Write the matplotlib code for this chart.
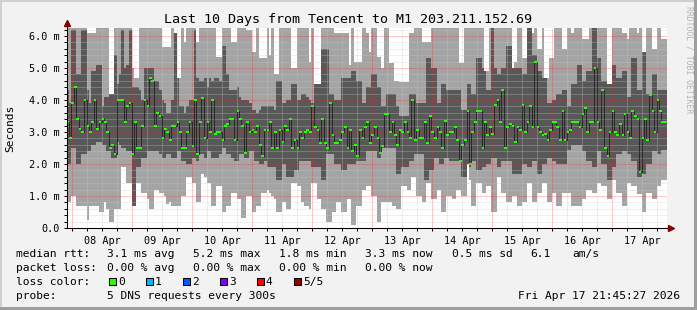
import numpy as np
import matplotlib

matplotlib.use("Agg")
from matplotlib import pyplot as plt
from matplotlib.patches import Rectangle
from matplotlib.ticker import FixedLocator, FuncFormatter, NullFormatter

# hourly bins, last 10 days up to Fri Apr 17 21:45, values in ms
median_rtt = [
    3.3, 2.8, 3.9, 4.4, 3.4, 3.1, 3.0, 4.0, 3.2, 3.0, 3.3, 4.0, 3.1, 3.3, 3.4, 3.3, 3.0, 2.5, 2.6, 2.3,
    4.0, 4.0, 4.0, 3.3, 3.8, 3.9, 2.3, 3.3, 2.5, 2.5, 3.2, 4.0, 3.8, 4.7, 4.6, 3.2, 3.6, 3.5, 2.8, 3.1,
    3.0, 2.75, 3.2, 3.2, 3.3, 3.0, 2.5, 2.5, 3.0, 3.3, 2.55, 4.0, 2.3, 3.3, 4.05, 2.8, 3.3, 3.0, 4.0, 2.95,
    3.0, 3.0, 2.75, 3.2, 3.25, 3.4, 3.4, 2.75, 3.65, 3.4, 3.2, 2.35, 3.3, 3.0, 3.05, 3.0, 3.2, 2.6, 2.25, 3.05,
    3.05, 3.3, 2.5, 3.0, 2.5, 3.05, 2.7, 3.2, 3.05, 3.4, 2.5, 2.75, 2.5, 3.0, 2.8, 3.0, 3.05, 3.0, 3.8, 3.15,
    3.05, 2.65, 3.4, 2.65, 2.5, 3.9, 2.9, 2.65, 2.65, 2.75, 3.0, 3.15, 2.5, 3.05, 2.4, 2.6, 2.25, 3.05, 2.8, 3.15,
    3.3, 2.65, 2.9, 3.15, 2.8, 2.35, 2.55, 3.55, 3.55, 3.0, 3.3, 2.9, 2.6, 3.05, 3.0, 3.3, 3.0, 2.8, 4.0, 2.75,
    3.05, 2.8, 2.8, 3.3, 2.65, 3.5, 3.0, 2.8, 3.15, 3.0, 2.5, 3.35, 2.9, 3.0, 3.0, 3.15, 2.75, 2.1, 2.6, 2.75,
    3.65, 2.0, 3.0, 3.3, 3.65, 3.65, 2.5, 3.3, 2.9, 3.15, 2.95, 3.85, 4.0, 3.3, 4.3, 2.5, 3.15, 3.25, 3.2, 2.7,
    3.15, 3.05, 3.85, 3.0, 3.3, 3.8, 3.15, 5.2, 3.15, 3.0, 2.9, 2.95, 2.75, 3.05, 3.3, 3.3, 3.15, 2.75, 3.65, 2.75,
    3.0, 3.05, 3.3, 3.3, 3.3, 3.15, 3.55, 3.75, 3.0, 3.3, 3.3, 5.0, 3.3, 3.05, 4.3, 2.5, 2.25, 3.0, 3.65, 3.0,
    2.9, 3.25, 2.9, 3.55, 3.0, 2.8, 3.65, 3.5, 3.4, 1.75, 2.8, 3.4, 2.75, 4.15, 3.65, 3.0, 4.0, 3.65, 3.3, 3.3,
]
# inner smoke band (2nd to 4th ping)
inner_hi = [
    4.3, 3.9, 6.2, 6.2, 4.8, 4.8, 6.2, 6.2, 4.3, 3.9, 4.9, 4.9, 5.1, 5.1, 3.8, 4.1, 4.1, 4.6, 4.6, 5.4,
    4.5, 4.8, 6.2, 5.0, 5.1, 6.2, 4.4, 4.4, 4.4, 4.3, 4.0, 5.0, 5.0, 5.0, 5.0, 4.6, 4.6, 4.3, 4.0, 3.9,
    3.6, 3.6, 4.0, 6.2, 6.2, 3.8, 3.8, 3.6, 3.8, 4.0, 4.0, 6.2, 4.7, 4.6, 4.6, 4.7, 4.4, 4.7, 4.6, 4.7,
    4.7, 4.6, 5.7, 5.7, 4.8, 4.3, 4.3, 4.3, 4.4, 4.1, 4.0, 4.0, 4.0, 3.9, 3.7, 3.7, 3.6, 3.7, 3.8, 3.8,
    3.8, 3.8, 3.8, 3.7, 4.6, 4.6, 3.9, 3.9, 4.0, 4.0, 4.5, 4.5, 4.0, 4.0, 4.2, 4.2, 4.1, 4.0, 3.9, 4.6,
    4.9, 4.9, 5.6, 5.6, 5.6, 4.2, 4.2, 4.0, 4.0, 4.0, 4.7, 4.7, 4.7, 4.7, 4.9, 4.9, 4.6, 4.6, 3.9, 3.9,
    4.4, 4.4, 4.8, 4.8, 4.4, 4.4, 3.8, 3.8, 4.2, 4.2, 4.2, 4.2, 3.8, 3.5, 3.5, 3.5, 3.5, 4.2, 4.2, 4.2,
    3.9, 3.9, 3.9, 3.9, 5.3, 5.3, 5.0, 5.0, 3.9, 3.9, 4.5, 4.5, 4.3, 4.3, 4.3, 4.3, 4.3, 4.3, 3.7, 3.7,
    4.5, 4.5, 4.2, 4.2, 5.3, 5.3, 5.0, 5.0, 4.3, 4.3, 6.3, 5.0, 4.8, 4.8, 5.0, 5.0, 5.7, 5.7, 5.0, 5.0,
    5.0, 5.0, 4.8, 4.8, 6.3, 6.3, 5.4, 5.4, 4.9, 4.9, 4.7, 4.7, 3.9, 3.9, 4.0, 4.0, 4.2, 4.2, 4.3, 4.3,
    3.8, 3.8, 4.5, 4.5, 5.1, 5.1, 4.6, 4.6, 4.9, 4.9, 6.3, 6.3, 5.3, 5.3, 4.6, 4.6, 4.5, 4.5, 5.1, 5.1,
    4.7, 4.7, 4.9, 4.9, 4.1, 4.1, 5.3, 5.3, 4.3, 4.3, 5.5, 5.5, 4.2, 4.2, 4.8, 4.8, 4.3, 4.3, 4.3, 4.3,
]
inner_lo = [
    2.0, 2.0, 2.5, 2.5, 2.0, 2.0, 2.3, 2.3, 2.4, 2.4, 2.6, 2.6, 2.7, 2.7, 2.6, 2.6, 2.4, 2.4, 2.2, 2.2,
    2.7, 2.6, 2.5, 2.5, 2.4, 2.4, 0.7, 0.7, 1.9, 1.9, 2.2, 2.2, 2.4, 2.4, 2.4, 2.4, 2.4, 2.3, 2.2, 2.2,
    2.3, 2.3, 2.2, 2.2, 2.4, 2.4, 2.1, 2.1, 2.0, 2.0, 2.2, 2.2, 2.1, 2.3, 2.3, 2.2, 2.4, 2.4, 2.2, 2.2,
    2.2, 2.3, 2.5, 2.5, 2.3, 2.3, 2.2, 2.1, 2.1, 2.3, 2.3, 2.2, 2.2, 2.4, 2.4, 2.1, 2.1, 2.0, 2.0, 2.1,
    1.9, 1.9, 1.9, 1.9, 1.5, 1.5, 2.0, 2.0, 1.6, 1.6, 1.6, 1.8, 1.8, 2.1, 2.1, 2.1, 2.1, 2.1, 1.9, 1.9,
    1.9, 1.9, 1.5, 1.5, 2.3, 2.3, 2.3, 2.0, 2.0, 2.0, 1.8, 1.8, 2.0, 2.0, 2.0, 2.0, 2.1, 2.1, 2.1, 2.1,
    2.4, 2.4, 2.4, 2.4, 2.2, 2.2, 2.5, 2.5, 2.5, 2.5, 2.5, 2.5, 1.7, 1.7, 1.9, 1.9, 1.9, 2.1, 2.1, 2.3,
    2.3, 2.3, 2.3, 1.5, 1.5, 1.8, 1.8, 2.2, 2.2, 2.0, 2.0, 2.2, 2.2, 2.1, 2.1, 2.1, 2.1, 2.1, 1.6, 1.6,
    1.9, 1.9, 2.1, 2.1, 1.8, 1.8, 1.9, 1.9, 2.0, 2.0, 2.2, 2.2, 1.9, 1.9, 2.1, 2.1, 2.1, 2.1, 1.7, 1.7,
    1.7, 1.7, 2.0, 2.0, 1.9, 1.9, 2.1, 2.1, 1.7, 1.7, 2.0, 2.0, 2.2, 2.2, 2.1, 2.1, 2.0, 2.0, 2.0, 2.0,
    2.45, 2.45, 2.6, 2.6, 2.6, 2.6, 2.4, 2.4, 2.1, 2.1, 1.9, 1.9, 2.4, 2.4, 2.0, 2.0, 1.5, 1.5, 1.9, 1.9,
    2.3, 2.3, 2.4, 2.4, 2.3, 2.3, 2.1, 2.1, 1.6, 1.6, 1.7, 1.7, 2.0, 2.0, 2.4, 2.4, 2.3, 2.3, 2.45, 2.45,
]
# outer smoke band (1st to 5th ping)
outer_hi = [
    6.3, 6.3, 6.3, 6.3, 6.3, 6.3, 6.3, 6.3, 6.1, 6.1, 6.1, 6.1, 6.3, 6.3, 6.3, 6.3, 6.3, 4.2, 4.2, 6.3,
    6.3, 6.3, 6.3, 6.3, 6.3, 6.3, 5.0, 4.7, 4.7, 6.3, 6.3, 6.3, 6.3, 6.3, 6.3, 6.3, 6.3, 6.3, 5.65, 5.65,
    5.65, 5.65, 6.3, 6.1, 4.7, 4.7, 6.3, 5.8, 6.3, 6.3, 6.3, 6.3, 5.8, 6.3, 6.3, 6.3, 6.3, 6.3, 6.3, 6.3,
    5.35, 5.35, 6.3, 6.3, 6.3, 6.3, 5.8, 5.8, 6.3, 6.3, 6.3, 6.3, 6.2, 6.2, 5.5, 5.5, 6.3, 5.3, 5.3, 5.3,
    6.3, 5.4, 6.3, 4.8, 4.8, 6.3, 6.3, 6.3, 6.3, 6.3, 5.0, 5.0, 6.3, 6.3, 6.3, 6.3, 6.3, 5.2, 6.3, 4.5,
    4.5, 4.5, 6.3, 6.3, 6.3, 6.3, 6.3, 6.1, 6.1, 6.1, 6.1, 6.1, 6.1, 5.1, 6.3, 5.2, 5.2, 5.2, 6.3, 6.3,
    6.1, 5.5, 6.3, 6.3, 5.35, 5.35, 5.0, 6.3, 6.3, 5.15, 5.15, 4.6, 4.6, 4.56, 4.56, 4.55, 4.55, 6.1, 6.1, 6.3,
    6.3, 6.3, 5.8, 5.8, 5.8, 5.8, 6.3, 6.3, 6.3, 6.3, 6.3, 6.3, 6.3, 6.3, 6.3, 6.3, 6.3, 5.15, 5.15, 6.3,
    6.3, 6.3, 6.3, 6.3, 6.3, 6.3, 6.3, 4.9, 4.9, 6.3, 6.3, 6.3, 6.3, 6.3, 6.3, 6.3, 6.3, 6.3, 5.0, 5.2,
    6.3, 6.3, 5.3, 5.3, 6.3, 6.3, 6.1, 6.3, 5.6, 5.6, 6.3, 4.7, 4.7, 5.3, 5.3, 6.3, 6.3, 6.3, 5.6, 5.6,
    6.3, 6.3, 6.1, 6.3, 6.3, 6.3, 5.9, 5.9, 5.9, 6.3, 6.3, 6.3, 6.3, 6.3, 6.3, 6.3, 4.5, 4.5, 6.3, 6.3,
    6.3, 6.3, 6.1, 6.1, 5.9, 6.3, 6.3, 6.3, 6.1, 6.3, 5.5, 5.5, 6.3, 6.3, 5.6, 5.6, 6.3, 6.3, 5.9, 5.9,
]
outer_lo = [
    0.8, 0.8, 1.0, 1.0, 0.7, 0.7, 0.7, 0.7, 0.25, 0.7, 0.7, 0.7, 0.7, 0.5, 0.5, 0.8, 0.6, 0.2, 0.2, 0.6,
    0.6, 0.6, 1.9, 1.9, 1.4, 1.4, 0.7, 0.7, 1.4, 1.4, 1.1, 1.1, 0.9, 0.6, 0.6, 1.2, 1.2, 1.1, 1.1, 1.0,
    0.75, 0.8, 0.7, 0.7, 0.7, 0.7, 1.0, 1.0, 1.6, 1.6, 1.4, 1.4, 0.8, 0.8, 1.7, 1.6, 1.4, 1.4, 0.7, 0.7,
    1.3, 1.3, 0.5, 0.5, 0.7, 0.7, 1.1, 1.1, 0.9, 0.9, 0.3, 0.3, 1.0, 1.0, 0.5, 0.5, 0.7, 0.7, 1.1, 1.1,
    1.2, 1.1, 1.0, 0.9, 0.5, 0.5, 0.8, 0.8, 0.6, 0.6, 1.4, 1.4, 1.3, 1.3, 0.8, 0.7, 0.7, 0.6, 1.4, 1.4,
    0.9, 0.9, 0.6, 0.6, 0.2, 0.2, 0.5, 0.5, 0.8, 0.8, 0.5, 0.5, 0.9, 0.9, 0.1, 0.1, 0.7, 0.7, 1.2, 1.2,
    1.3, 1.3, 1.0, 1.0, 0.2, 0.2, 0.8, 0.8, 0.8, 0.8, 0.7, 0.7, 0.6, 0.6, 1.3, 1.3, 1.2, 1.2, 1.6, 1.6,
    1.0, 1.0, 0.8, 0.8, 1.4, 1.4, 0.9, 0.9, 1.2, 1.2, 0.5, 0.5, 1.0, 1.0, 0.9, 0.9, 1.2, 1.2, 1.0, 1.0,
    2.0, 1.5, 0.7, 0.7, 1.4, 1.4, 1.1, 1.1, 1.3, 1.3, 0.5, 0.5, 1.6, 1.6, 1.1, 1.1, 0.8, 0.8, 1.0, 1.0,
    0.7, 0.7, 0.8, 0.8, 1.4, 1.4, 0.8, 0.8, 1.1, 1.1, 1.4, 1.4, 0.8, 0.8, 1.1, 1.1, 0.7, 0.7, 1.1, 1.1,
    1.1, 1.1, 0.7, 0.7, 0.7, 0.7, 0.9, 0.9, 1.2, 1.2, 1.1, 1.1, 1.4, 1.4, 1.3, 1.3, 0.9, 0.9, 1.5, 1.5,
    1.1, 1.1, 0.7, 0.7, 1.4, 1.4, 1.3, 1.3, 1.05, 1.05, 0.5, 0.5, 1.1, 1.1, 0.9, 0.9, 1.3, 1.3, 1.5, 1.5,
]

day_labels = ["08 Apr", "09 Apr", "10 Apr", "11 Apr", "12 Apr",
              "13 Apr", "14 Apr", "15 Apr", "16 Apr", "17 Apr"]
ytick_labels = ["0.0", "1.0 m", "2.0 m", "3.0 m", "4.0 m", "5.0 m", "6.0 m"]
title = "Last 10 Days from Tencent to M1 203.211.152.69"
rtt_stats = ["3.1 ms avg", "5.2 ms max", "1.8 ms min", "3.3 ms now", "0.5 ms sd", "6.1", "am/s"]
loss_stats = ["0.00 % avg", "0.00 % max", "0.00 % min", "0.00 % now"]
loss_names = ["0", "1", "2", "3", "4", "5/5"]
loss_colors = ["#26ff00", "#00b8ff", "#0059ff", "#7e00ff", "#ff0000", "#a00000"]
probe_text = "5 DNS requests every 300s"
stamp = "Fri Apr 17 21:45:27 2026"

plt.rcParams["font.family"] = "DejaVu Sans Mono"

W, H = 697, 310
fig = plt.figure(figsize=(W / 100, H / 100), dpi=100, facecolor="#f2f2f2")
ax = fig.add_axes([66.5 / W, 1 - 228 / H, 600 / W, 200 / H])
ax.set_facecolor("white")


def px(x, y):
    # pixel position (from top left) -> figure fraction
    return x / W, 1 - y / H


def stepped(values):
    return np.append(values, values[-1])


n = len(median_rtt)
t_end = 17 + (21 + 45 / 60 + 27 / 3600) / 24
t_start = t_end - 10
edges = t_start + np.arange(n + 1) / 24

med = np.array(median_rtt)
o_hi, o_lo = np.array(outer_hi), np.array(outer_lo)
i_hi = np.minimum(np.array(inner_hi), o_hi)
i_lo = np.maximum(np.array(inner_lo), o_lo)

ax.fill_between(edges, stepped(o_lo), stepped(o_hi), step="post",
                color="#a4a4a4", lw=0, zorder=1)
ax.fill_between(edges, stepped(i_lo), stepped(i_hi), step="post",
                color="#585858", lw=0, zorder=1.1)
ax.step(edges, stepped(med), where="post", color="#202020", lw=0.6, zorder=3)
ax.bar(edges[:-1], 0.065, bottom=med - 0.0325, width=1 / 24, align="edge",
       color=loss_colors[0], lw=0, zorder=4)

ax.set_xlim(t_start, t_end)
ax.set_ylim(0, 6.25)

days = np.arange(8, 18)
six_hours = [d + q / 4 for d in range(7, 18) for q in (1, 2, 3) if t_start < d + q / 4 < t_end]
noon_names = {round(d + 0.5, 3): lab for d, lab in zip(days, day_labels)}
ax.xaxis.set_major_locator(FixedLocator(days))
ax.xaxis.set_minor_locator(FixedLocator(six_hours))
ax.xaxis.set_major_formatter(NullFormatter())
ax.xaxis.set_minor_formatter(FuncFormatter(lambda v, pos: noon_names.get(round(v, 3), "")))
ax.set_yticks(range(7), ytick_labels)
ax.set_yticks([v / 5 for v in range(32) if v % 5], minor=True)

# rrdtool's 1px dotted grid
ax.set_axisbelow(False)
ax.grid(which="minor", color="#c8c8c8", alpha=0.6, lw=0.72, ls=(0, (1, 1)))
ax.grid(which="major", color="#ff2020", alpha=0.5, lw=0.72, ls=(0, (1, 1)))
ax.tick_params(which="both", direction="out", length=2.2, width=0.72, labelsize=7.3)
ax.tick_params(axis="y", pad=2.5)
ax.tick_params(axis="x", pad=2.0)

for side in ("top", "right"):
    ax.spines[side].set_visible(False)
for side in ("left", "bottom"):
    ax.spines[side].set_linewidth(0.75)
    ax.spines[side].set_zorder(5)

# axis arrows
ax.plot([1.0, 1.006], [0, 0], transform=ax.transAxes, color="black", lw=0.75, clip_on=False)
ax.plot([1.008], [0], marker=">", ms=4, color="#7f0000", transform=ax.transAxes, clip_on=False)
ax.plot([0, 0], [1.0, 1.012], transform=ax.transAxes, color="black", lw=0.75, clip_on=False)
ax.plot([0], [1.025], marker="^", ms=4, color="#7f0000", transform=ax.transAxes, clip_on=False)

fig.text(*px(348, 19), title, ha="center", va="center", fontsize=9.6)
fig.text(*px(10, 128), "Seconds", rotation=90, ha="center", va="center", fontsize=8.1)
fig.text(*px(689, 60), "RRDTOOL / TOBI OETIKER", rotation=270, ha="center", va="center",
         fontsize=5.9, color="#b4b4b4")

cols = [107, 193, 279, 365, 452, 530, 572]
fig.text(*px(16, 254), "median rtt:", va="center", fontsize=8.1)
for x, s in zip(cols, rtt_stats):
    fig.text(*px(x, 254), s, va="center", fontsize=8.1)
fig.text(*px(16, 268), "packet loss:", va="center", fontsize=8.1)
for x, s in zip(cols, loss_stats):
    fig.text(*px(x, 268), s, va="center", fontsize=8.1)
fig.text(*px(16, 282), "loss color:", va="center", fontsize=8.1)
for k, (name, c) in enumerate(zip(loss_names, loss_colors)):
    bx = 108.5 + 37 * k
    fig.add_artist(Rectangle(px(bx, 285), 7 / W, 7 / H, facecolor=c, edgecolor="black",
                             lw=0.75, transform=fig.transFigure))
    fig.text(*px(bx + 9.5, 282), name, va="center", fontsize=8.1)
fig.text(*px(16, 296), "probe:", va="center", fontsize=8.1)
fig.text(*px(107, 296), probe_text, va="center", fontsize=8.1)
fig.text(*px(680, 296), stamp, ha="right", va="center", fontsize=8.1)

# 3d frame around the image
fig.add_artist(Rectangle((0, 1 - 2 / H), 1, 2 / H, color="#cfcfcf", lw=0, transform=fig.transFigure))
fig.add_artist(Rectangle((0, 0), 2 / W, 1, color="#cfcfcf", lw=0, transform=fig.transFigure))
fig.add_artist(Rectangle((1 - 3 / W, 0), 3 / W, 1, color="#9e9e9e", lw=0, transform=fig.transFigure))
fig.add_artist(Rectangle((0, 0), 1, 3 / H, color="#9e9e9e", lw=0, transform=fig.transFigure))

fig.savefig("out.png", dpi=100, facecolor=fig.get_facecolor())
